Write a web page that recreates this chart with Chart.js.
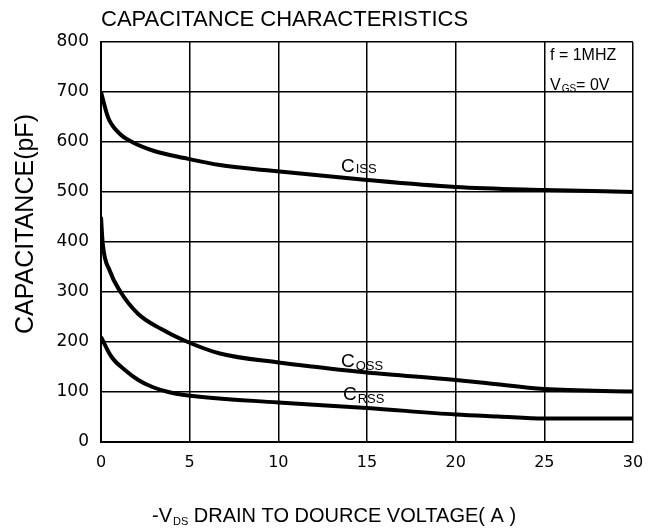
<!DOCTYPE html>
<html>
<head>
<meta charset="utf-8">
<script src="https://cdn.jsdelivr.net/npm/chart.js@4"></script>
<style>
  html, body { margin: 0; padding: 0; background: #fff; }
  #wrap { width: 659px; height: 528px; }
</style>
</head>
<body>
<div id="wrap"><canvas id="capChart" width="659" height="528"></canvas></div>
<script>
// values
let cissX = [0, 0.4, 1.07, 1.75, 3.0, 4.7, 6.7, 9.5, 15, 20, 25, 30];
let cissY = [700, 649, 616, 600, 582, 568, 554, 543, 524, 510, 504, 500];

let cossX = [0, 0.1, 0.5, 1.07, 2.1, 3.4, 4.7, 6.7, 10, 12.4, 15, 20, 21.7, 25, 30];
let cossY = [450, 396, 342, 302, 256, 226, 203, 177, 159, 149, 139, 124, 118, 106, 101];

let crssX = [0, 0.6, 1.35, 2.1, 2.9, 3.8, 4.7, 10, 15, 20, 22.4, 25, 30];
let crssY = [210, 170, 144, 124, 110, 100, 94, 79, 68, 55, 51, 47, 47];

let xTicks = [0, 5, 10, 15, 20, 25, 30];
let yTicks = [0, 100, 200, 300, 400, 500, 600, 700, 800];

function toPoints(xs, ys) {
    return xs.map((x, i) => ({ x: x, y: ys[i] }));
}

// text with a small subscript, drawn left to right
function drawSub(ctx, x, y, main, sub, rest, bigFont, smallFont, subDrop) {
    ctx.font = bigFont;
    ctx.fillText(main, x, y);
    x += ctx.measureText(main).width + 1;
    ctx.font = smallFont;
    ctx.fillText(sub, x, y + subDrop);
    x += ctx.measureText(sub).width;
    if (rest) {
        ctx.font = bigFont;
        ctx.fillText(rest, x, y);
    }
}

const labelsPlugin = {
    id: "labels",
    afterDraw(chart) {
        let ctx = chart.ctx;
        ctx.save();
        ctx.fillStyle = "#000";
        ctx.textAlign = "left";
        ctx.textBaseline = "alphabetic";

        ctx.font = "22px 'Liberation Sans'";
        ctx.fillText("CAPACITANCE CHARACTERISTICS", 101, 26);

        // y axis title
        ctx.save();
        ctx.translate(33, 224);
        ctx.rotate(-Math.PI / 2);
        ctx.textAlign = "center";
        ctx.font = "25px 'Liberation Sans'";
        ctx.fillText("CAPACITANCE(pF)", 0, 0);
        ctx.restore();

        // x axis title
        drawSub(ctx, 152, 522, "-V", "DS", " DRAIN TO DOURCE VOLTAGE( A )",
            "20px 'Liberation Sans'", "11px 'Liberation Sans'", 3);

        // test conditions box
        ctx.font = "16px 'Liberation Sans'";
        ctx.fillText("f = 1MHZ", 550, 60);
        drawSub(ctx, 550, 90, "V", "GS", "= 0V",
            "16px 'Liberation Sans'", "10px 'Liberation Sans'", 2);

        // curve names
        drawSub(ctx, 341, 172, "C", "ISS", "", "19px 'Liberation Sans'", "13px 'Liberation Sans'", 1);
        drawSub(ctx, 341, 367, "C", "OSS", "", "19px 'Liberation Sans'", "13px 'Liberation Sans'", 3);
        drawSub(ctx, 343, 400, "C", "RSS", "", "19px 'Liberation Sans'", "13px 'Liberation Sans'", 3);

        ctx.restore();
    }
};

let lineStyle = {
    borderColor: "#000",
    borderWidth: 4,
    pointRadius: 0,
    fill: false,
    cubicInterpolationMode: "monotone"
};

let ctx = document.getElementById("capChart").getContext("2d");
new Chart(ctx, {
    type: "line",
    data: {
        datasets: [
            Object.assign({ label: "Ciss", data: toPoints(cissX, cissY) }, lineStyle),
            Object.assign({ label: "Coss", data: toPoints(cossX, cossY) }, lineStyle),
            Object.assign({ label: "Crss", data: toPoints(crssX, crssY) }, lineStyle)
        ]
    },
    options: {
        responsive: false,
        animation: false,
        layout: { padding: { top: 42, right: 26, left: 0, bottom: 0 } },
        plugins: {
            legend: { display: false },
            tooltip: { enabled: false }
        },
        scales: {
            x: {
                type: "linear",
                min: 0,
                max: 30,
                afterFit: s => { s.height = 86; },
                afterBuildTicks: s => { s.ticks = xTicks.map(v => ({ value: v })); },
                grid: { color: "#000", lineWidth: 1.5, drawTicks: false },
                border: { color: "#000", width: 2 },
                ticks: {
                    color: "#000",
                    padding: 11,
                    maxRotation: 0,
                    font: { family: "'DejaVu Sans'", size: 16 }
                }
            },
            y: {
                min: 0,
                max: 800,
                afterFit: s => { s.width = 101; },
                afterBuildTicks: s => { s.ticks = yTicks.map(v => ({ value: v })); },
                grid: { color: "#000", lineWidth: 1.5, drawTicks: false },
                border: { color: "#000", width: 2 },
                ticks: {
                    color: "#000",
                    padding: 12,
                    font: { family: "'DejaVu Sans'", size: 17 }
                }
            }
        }
    },
    plugins: [labelsPlugin]
});
</script>
</body>
</html>
